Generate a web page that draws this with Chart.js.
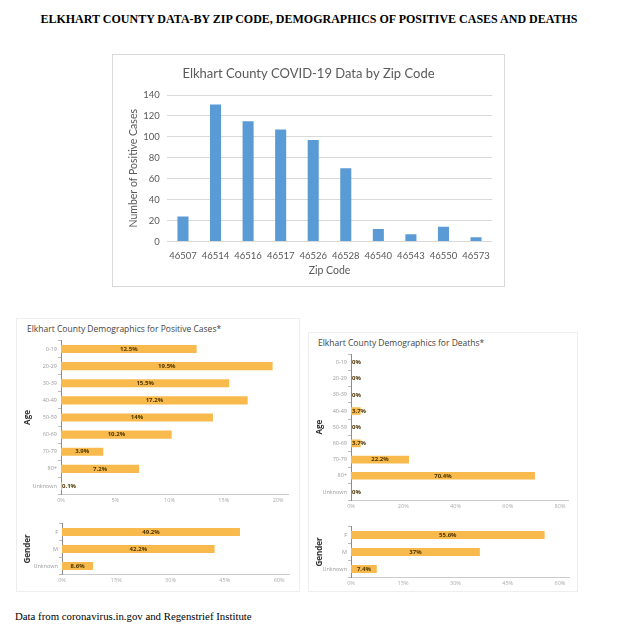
<!DOCTYPE html>
<html lang="en">
<head>
<meta charset="UTF-8">
<title>Elkhart County COVID-19 Data</title>
<style>
  body { margin: 0; background: #fff; width: 618px; height: 630px; position: relative; overflow: hidden; }
  .abs { position: absolute; }
  #heading { left: 0; width: 618px; top: 12px; text-align: center; font: bold 12px "Liberation Serif", serif; color: #000; white-space: nowrap; }
  #footer { left: 15px; top: 610px; font: 10.8px "Liberation Serif", serif; color: #000; white-space: nowrap; }
  #topbox { left: 112px; top: 54px; width: 391px; height: 231px; border: 1px solid #d9d9d9; }
  .ptitle { font: 8.5px "Open Sans", sans-serif; color: #444; white-space: nowrap; }
  .panel { border: 1px solid #eeeeee; }
</style>
</head>
<body>
<div id="heading" class="abs">ELKHART COUNTY DATA-BY ZIP CODE, DEMOGRAPHICS OF POSITIVE CASES AND DEATHS</div>

<div id="topbox" class="abs"></div>
<canvas id="zipChart" class="abs" width="391" height="231" style="left:113px;top:55px;"></canvas>

<div class="abs panel" style="left:16px;top:318px;width:282px;height:272px;"></div>
<div class="abs panel" style="left:308px;top:332px;width:268px;height:258px;"></div>

<div class="abs ptitle" style="left:27px;top:323px;">Elkhart County Demographics for Positive Cases*</div>
<canvas id="casesAge" class="abs" width="282" height="172" style="left:16px;top:336px;"></canvas>
<canvas id="casesGender" class="abs" width="282" height="70" style="left:16px;top:518px;"></canvas>

<div class="abs ptitle" style="left:318px;top:337px;">Elkhart County Demographics for Deaths*</div>
<canvas id="deathsAge" class="abs" width="270" height="160" style="left:306px;top:350px;"></canvas>
<canvas id="deathsGender" class="abs" width="270" height="70" style="left:306px;top:520px;"></canvas>

<div id="footer" class="abs">Data from coronavirus.in.gov and Regenstrief Institute</div>

<script src="https://cdn.jsdelivr.net/npm/chart.js"></script>
<script>
    // data
    const zipCodes = ["46507", "46514", "46516", "46517", "46526", "46528", "46540", "46543", "46550", "46573"];
    const zipCases = [24, 131, 115, 107, 97, 70, 12, 7, 14, 4];

    const ageGroups = ["0-19", "20-29", "30-39", "40-49", "50-59", "60-69", "70-79", "80+", "Unknown"];
    const casesByAge = [12.5, 19.5, 15.5, 17.2, 14, 10.2, 3.9, 7.2, 0.1];
    const deathsByAge = [0, 0, 0, 3.7, 0, 3.7, 22.2, 70.4, 0];

    const genders = ["F", "M", "Unknown"];
    const casesByGender = [49.2, 42.2, 8.6];
    const deathsByGender = [55.6, 37, 7.4];

    const ticksAge = [0, 5, 10, 15, 20];
    const ticksGender = [0, 15, 30, 45, 60];
    const ticksDeathAge = [0, 20, 40, 60, 80];

    Chart.defaults.animation = false;
    Chart.defaults.responsive = false;
    Chart.defaults.plugins.legend.display = false;
    Chart.defaults.plugins.tooltip.enabled = false;

    function fixW(w) { return s => { s.width = w; }; }
    function fixH(h) { return s => { s.height = h; }; }
    function keepTicks(list) { return s => { s.ticks = list.map(v => ({ value: v })); }; }

    // value labels inside the bars
    const barLabels = {
        id: "barLabels",
        afterDatasetsDraw(chart) {
            const ctx = chart.ctx;
            const meta = chart.getDatasetMeta(0);
            const data = chart.data.datasets[0].data;
            ctx.save();
            ctx.font = "bold 6px 'Open Sans', sans-serif";
            ctx.fillStyle = "#4d3500";
            ctx.textBaseline = "middle";
            meta.data.forEach((bar, i) => {
                const txt = data[i] + "%";
                const w = ctx.measureText(txt).width;
                const len = bar.x - bar.base;
                if (w + 4 < len) {
                    ctx.textAlign = "center";
                    ctx.fillText(txt, (bar.x + bar.base) / 2, bar.y);
                } else {
                    ctx.textAlign = "left";
                    ctx.fillText(txt, bar.base + 1, bar.y);
                }
            });
            ctx.restore();
        }
    };

    // top chart, zip codes
    new Chart(document.getElementById("zipChart"), {
        type: "bar",
        data: {
            labels: zipCodes,
            datasets: [{ data: zipCases, backgroundColor: "#5B9BD5", barPercentage: 0.34, categoryPercentage: 1 }]
        },
        options: {
            layout: { padding: { left: 11.7, right: 11.7, top: 0, bottom: 0 } },
            plugins: {
                title: {
                    display: true,
                    text: "Elkhart County COVID-19 Data by Zip Code",
                    color: "#595959",
                    font: { family: "Lato", size: 13, weight: "normal" },
                    padding: { top: 11, bottom: 13.4 }
                }
            },
            scales: {
                x: {
                    grid: { display: false },
                    border: { display: false },
                    ticks: { color: "#595959", font: { family: "Lato", size: 9.5 }, padding: 1, maxRotation: 0, autoSkip: false },
                    title: { display: true, text: "Zip Code", color: "#595959", font: { family: "Lato", size: 10.5 }, padding: { top: 0, bottom: 9.4 } },
                    afterFit: fixH(44.5)
                },
                y: {
                    min: 0, max: 140,
                    ticks: { stepSize: 20, color: "#595959", font: { family: "Lato", size: 9.5 }, padding: 7 },
                    grid: { color: "#d9d9d9", drawTicks: false },
                    border: { display: false },
                    title: { display: true, text: "Number of Positive Cases", color: "#595959", font: { family: "Lato", size: 10.5 }, padding: { top: 3, bottom: 0 } },
                    afterFit: fixW(42)
                }
            }
        }
    });

    function demoChart(id, labels, values, opt) {
        return new Chart(document.getElementById(id), {
            type: "bar",
            plugins: [barLabels],
            data: {
                labels: labels,
                datasets: [{ data: values, backgroundColor: "#F8BA4D", barPercentage: 0.47, categoryPercentage: 1 }]
            },
            options: {
                indexAxis: "y",
                layout: { padding: { left: 0, right: opt.padRight, top: opt.padTop, bottom: 0 } },
                scales: {
                    x: {
                        min: 0, max: opt.max,
                        afterBuildTicks: keepTicks(opt.ticks),
                        grid: { display: false, drawOnChartArea: false, tickLength: 2, color: "#cccccc" },
                        border: { display: true, color: "#cccccc" },
                        ticks: { color: "#aaaaaa", font: { family: "Open Sans", size: 5.5 }, padding: 1, maxRotation: 0, autoSkip: false, callback: v => v + "%" },
                        afterFit: fixH(opt.xH)
                    },
                    y: {
                        grid: { drawOnChartArea: false, tickLength: 3, color: "#bbbbbb" },
                        border: { display: true, color: "#8c8c8c" },
                        ticks: { color: "#9a9a9a", font: { family: "Open Sans", size: 5.5 }, padding: 1, autoSkip: false },
                        title: { display: true, text: opt.title, color: "#333333", font: { family: "Open Sans", size: 8, weight: "bold" }, padding: { top: opt.titlePad, bottom: 0 } },
                        afterFit: fixW(opt.yW)
                    }
                }
            }
        });
    }

    demoChart("casesAge", ageGroups, casesByAge, { max: 21, ticks: ticksAge, padRight: 9.1, padTop: 4.4, xH: 13.4, yW: 45, title: "Age", titlePad: 7.2 });
    demoChart("casesGender", genders, casesByGender, { max: 63, ticks: ticksGender, padRight: 8.1, padTop: 5.5, xH: 13.5, yW: 46, title: "Gender", titlePad: 7.2 });
    demoChart("deathsAge", ageGroups, deathsByAge, { max: 83.4, ticks: ticksDeathAge, padRight: 7.1, padTop: 3.9, xH: 9.9, yW: 45, title: "Age", titlePad: 9.2 });
    demoChart("deathsGender", genders, deathsByGender, { max: 62.6, ticks: ticksGender, padRight: 7, padTop: 6.5, xH: 12.5, yW: 45, title: "Gender", titlePad: 9.2 });
</script>
</body>
</html>
